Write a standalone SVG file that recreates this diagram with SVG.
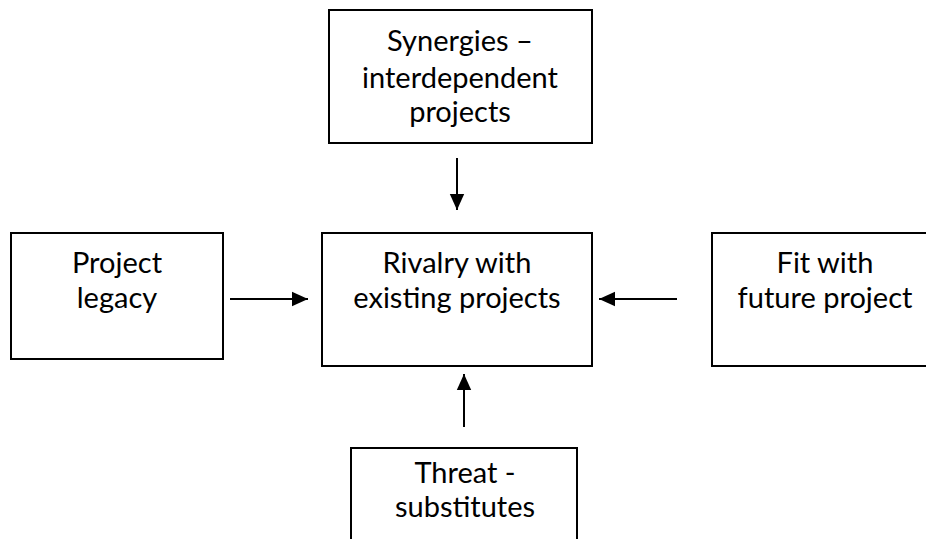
<svg xmlns="http://www.w3.org/2000/svg" width="926" height="539" viewBox="0 0 926 539">
<defs>
<marker id="ah" viewBox="0 0 10 10" refX="10" refY="5" markerWidth="8" markerHeight="8" markerUnits="strokeWidth" orient="auto">
<path d="M0,0.5 L10,5 L0,9.5 Z" fill="#000"/>
</marker>
<style>
.box{fill:#fff;stroke:#000;stroke-width:2}
.t{font-family:Lato,"Liberation Sans",sans-serif;font-size:29px;fill:#000;text-anchor:middle}
.c{stroke:#000;stroke-width:2;fill:none;marker-end:url(#ah)}
</style>
</defs>
<rect width="926" height="539" fill="#fff"/>
<g id="synergies">
<rect class="box" x="329" y="10" width="263" height="133"/>
<text class="t" x="460" y="51">Synergies –</text>
<text class="t" x="460" y="88">interdependent</text>
<text class="t" x="460" y="122">projects</text>
</g>
<g id="legacy">
<rect class="box" x="11" y="233" width="212" height="126"/>
<text class="t" x="117" y="273">Project</text>
<text class="t" x="117" y="308">legacy</text>
</g>
<g id="rivalry">
<rect class="box" x="322" y="233" width="270" height="133"/>
<text class="t" x="457" y="273">Rivalry with</text>
<text class="t" x="457" y="308">existing projects</text>
</g>
<g id="fit">
<rect class="box" x="712" y="233" width="230" height="133"/>
<text class="t" x="825" y="273">Fit with</text>
<text class="t" x="825" y="308">future project</text>
</g>
<g id="threat">
<rect class="box" x="351" y="448" width="226" height="110"/>
<text class="t" x="465" y="483">Threat -</text>
<text class="t" x="465" y="517">substitutes</text>
</g>
<g id="connectors">
<line class="c" x1="457" y1="158" x2="457" y2="210"/>
<line class="c" x1="230" y1="299" x2="308" y2="299"/>
<line class="c" x1="677" y1="299" x2="599" y2="299"/>
<line class="c" x1="464" y1="427" x2="464" y2="374"/>
</g>
</svg>
